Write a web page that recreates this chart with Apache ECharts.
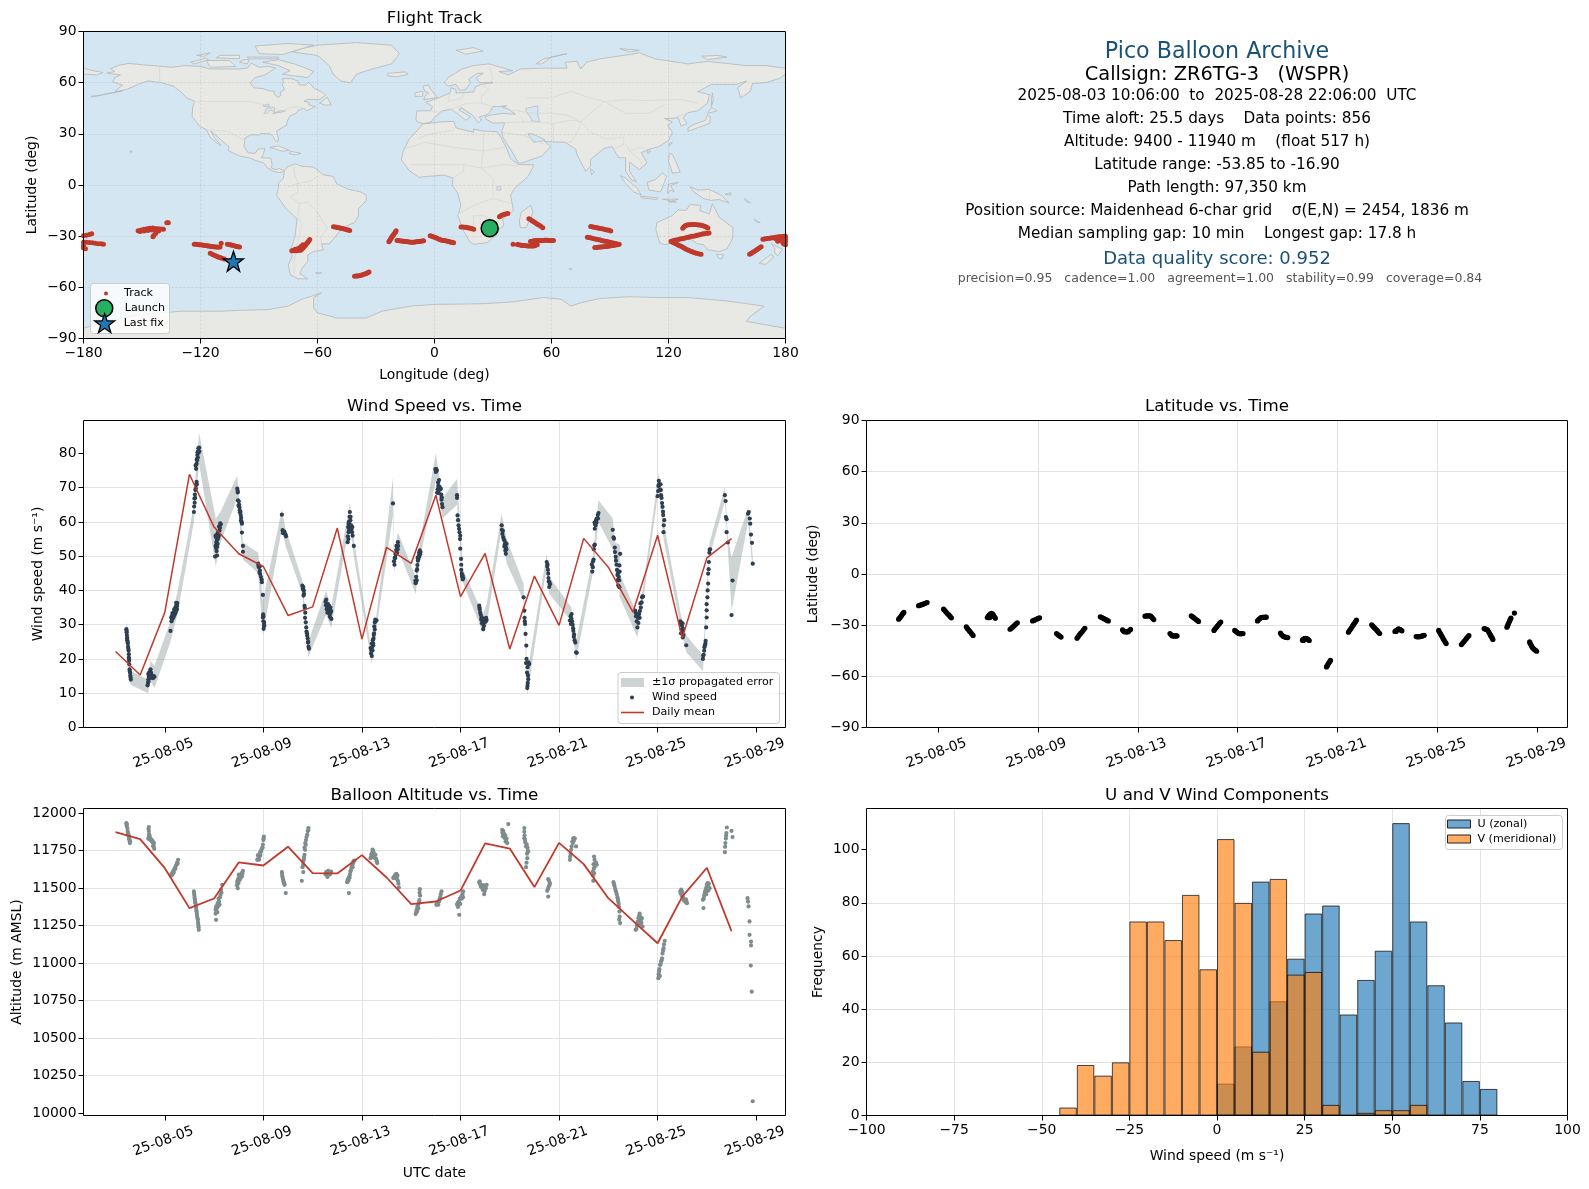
<!DOCTYPE html>
<html><head><meta charset="utf-8">
<style>html,body{margin:0;padding:0;background:#fff}#c{width:1589px;height:1189px}</style>
<script src="https://cdn.jsdelivr.net/npm/echarts@6/dist/echarts.min.js"></script>
</head><body><div id="c"></div>
<script>
// ---------- land outlines, [lon, lat] ----------
const landPolygons = [
 [[-168,65.6],[-164,66.5],[-166,68.3],[-162,70.2],[-156.5,71.3],[-150,70.5],[-141,69.7],[-135,69],[-128,70],[-120,69.5],[-115,68],[-108,68],[-100,68],[-96,68.5],[-94,71.5],[-90,69],[-85,69.5],[-81.5,68.5],[-85,66],[-87,64.5],[-92,63],[-94.5,60],[-94,58.7],[-92.5,57],[-88,56.5],[-85,55.3],[-82.3,55],[-82,52.9],[-80,51.3],[-78.8,52.5],[-79,54.5],[-77,56],[-78,58.7],[-77.5,60.5],[-78,62.4],[-73.5,62.4],[-70,61],[-69.5,58.8],[-66,58.5],[-64.5,60.3],[-61.5,56.5],[-58,54.8],[-56,52.5],[-59,50.2],[-65,50.2],[-67,49],[-64.5,48.5],[-64.5,47],[-61,46],[-65.5,43.5],[-67,45],[-70,43.7],[-71,42],[-74,40.5],[-75.5,37.5],[-76,35],[-78,33.8],[-81,31.5],[-80,27],[-80.5,25.2],[-81.8,26],[-82.8,28.5],[-84,30],[-89,30.2],[-90,29.2],[-94,29.5],[-97.2,27.5],[-97.7,22.5],[-95.5,18.8],[-92,18.6],[-90.5,21],[-87,21.5],[-87.8,18],[-88.8,15.9],[-84,15.8],[-83.3,12],[-83.7,10],[-81.5,9],[-79.5,9.6],[-77.3,8.5],[-78,7.5],[-80.3,7.3],[-83,8.3],[-85.7,10],[-87.6,13],[-92,14.5],[-95,16],[-100,17],[-105.5,20],[-105.5,22.5],[-109,26],[-112.5,29.5],[-114.7,31.7],[-112.5,27],[-110,24],[-109.5,23],[-112,25],[-115,28],[-117,32.5],[-120.5,34.5],[-122.5,37.5],[-124.3,40.3],[-124,46],[-123,49],[-127,51],[-130,54.5],[-134,58],[-140,60],[-147,61],[-152,59],[-158,56],[-164,54.7],[-160,58.5],[-165,60.5],[-164,63],[-161,64.5]],
 [[-73,78],[-68,80],[-60,82],[-40,83.5],[-22,82],[-18,77],[-22,71],[-32,68],[-40,65],[-43,60],[-48,61],[-52,65],[-54,70],[-60,76]],
 [[-80,73.5],[-72,71],[-67,69],[-62,66.5],[-65,63],[-72,64],[-78,65],[-74,67],[-80,70],[-88,72]],
 [[-117,73],[-105,73],[-102,69.5],[-115,69]],[[-90,77],[-78,76.5],[-62,82],[-75,83],[-92,81.5]],[[-125,72],[-117,74.5],[-116,73.5],[-123,71]],
 [[-110,76],[-100,76],[-100,74],[-112,74.5]],[[-96,75],[-80,75],[-80,74],[-95,74]],[[-122,76],[-115,77.5],[-118,75.5]],[[-98,73.5],[-95,73.5],[-96,71],[-100,72]],
 [[-59,48],[-55,51.5],[-53,47],[-56,46.8]],[[-84.5,22],[-80,23],[-74.5,20.3],[-78,19.8]],[[-74,19.8],[-68.5,18.6],[-71.5,17.7],[-74.4,18.4]],
 [[-156,20.2],[-155,19.6],[-155.7,19]],[[-170,53],[-160,55.2],[-165,54]],[[-176,52],[-170,52.8],[-176,51.6]],
 [[-77,8.5],[-75,11],[-71.5,12.4],[-68,11],[-62,10.5],[-57,6],[-52,5],[-50,0.5],[-44,-2.5],[-38,-4],[-35,-6],[-35,-9],[-39,-14],[-39,-18],[-41,-22],[-45,-24],[-48.5,-27],[-52,-32],[-54,-34.5],[-58,-34.5],[-57,-38],[-62,-39],[-65,-41],[-65,-45],[-68,-49],[-69,-52],[-65,-55],[-70,-55],[-74,-52.5],[-75,-47],[-73,-42],[-73.5,-37],[-71.5,-30],[-70.5,-20],[-76,-14],[-81,-6],[-80,-2],[-80,1],[-77.5,4]],
 [[-61,-51.5],[-58,-51.5],[-59.5,-52.3]],[[69,-49],[70.5,-49.3],[69.5,-49.8]],
 [[-6,35.8],[3,37],[10,37.3],[11,33.5],[15,32.3],[20,31],[20,32.8],[25,31.6],[32,31.3],[34,28],[37,21.5],[39,15.5],[43,12],[51,11.8],[48,5],[41,-2],[39,-6],[40.5,-15],[35,-20],[35.5,-24],[33,-26],[32,-29],[27,-33.8],[20,-34.8],[18,-33],[15,-27],[12,-18],[13.5,-12],[12,-5],[9,0],[9.5,4],[5,5.8],[-4,5],[-8,4.5],[-13,8.5],[-17,14.7],[-16,20],[-13,27],[-9.5,31]],
 [[49.3,-12],[50.5,-16],[47,-25],[44,-25],[43.5,-21],[44.5,-16]],
 [[-9,37],[-9.5,39],[-9,43.5],[-2,43.5],[-1,46],[-4.5,48.5],[2,51],[8,54],[8.5,57],[11,56],[11,54],[20,54.5],[21,57.5],[24,59],[30,60],[23,60],[21.5,63],[25,65.5],[22,65.5],[17.5,62],[18.5,60],[16,56],[13,55.5],[11,59],[7,58],[5,60],[7,63],[14,68],[20,70],[28,71],[40,67],[33,66.5],[38,64.5],[44,68],[55,68.5],[68,68.5],[67,72],[73,72.5],[75,68],[78,72],[85,74],[100,76.5],[105,77.5],[113,74],[130,71],[140,72.5],[160,70],[170,70],[180,68.5],[180,65],[177,62.5],[170,60],[163,59.5],[162,55],[157,51],[155.5,57],[160,61],[155,59],[142,59],[135,54.7],[141,53],[140,48],[135,43.5],[130,42.5],[127.5,39.5],[129.5,36],[126.5,34.5],[125,39.5],[121,39],[118,39],[122,37],[119.5,35],[122,31],[120,26],[115,22.5],[110,21],[106,19],[109,13],[105,9],[100,13.5],[100,8],[103.5,2],[101,3],[98,8],[98,16],[94.5,16],[91,22.5],[87,21.5],[80,15],[80,11],[77.5,8],[73,18],[72.5,21],[67,25],[57,25.5],[56,27],[50,30],[48,30],[51,25],[56,26],[59.5,22.5],[55,17],[45,13],[43,13],[39,21],[35,28],[34.5,31.5],[36,36.5],[30,36.3],[26.5,38.5],[26,40],[29,41],[35,42],[41.5,41.5],[38,44.5],[35,45.5],[37,46.5],[33,46],[30,46],[28,42],[26,40.8],[23,40],[24,38],[22.5,36.5],[19.5,41],[13.5,45.5],[12.5,44],[18.5,40],[16,38],[11,42.5],[8.5,44.5],[3.5,43.3],[0,39.5],[-2,36.8],[-5.5,36]],
 [[-180,68.5],[-175,67],[-170,66],[-173,64.5],[-180,65]],
 [[-5.5,50],[1.5,51.3],[0,53.5],[-2,56],[-3,58.6],[-6,58],[-5,55],[-3,54],[-5,52]],[[-10,52],[-6,52],[-6,55],[-10,54]],[[-24,65.5],[-15,66.3],[-13.5,65],[-19,63.4],[-24,64]],
 [[130,31.5],[136,34],[141,36],[141.5,40],[140,41],[139,38],[133,35.5],[130,33.5]],[[140,42],[145,43.5],[142,45.5]],[[142,46],[143,50],[142.5,54],[142,50]],
 [[80,9.5],[82,7.5],[80.5,6]],[[120.3,22.5],[122,25],[120.5,24.5]],[[109,20],[111,19.8],[109.5,18.3]],
 [[120.5,18.5],[122,18],[124,13],[126,7.5],[122,7],[120,14]],[[109,1.5],[113,3],[117,7],[119,5],[117.5,0.5],[116,-4],[110,-3]],[[95.3,5.5],[98,4],[104,-2],[106,-5.8],[102,-4],[98,1]],[[105.5,-6.5],[114.5,-7.5],[114,-8.5],[106,-7.5]],
 [[119.5,-5],[120,0.5],[125,1.5],[121,-0.5],[123,-4],[121,-3]],[[131,-1],[135,-3],[141,-2.6],[147,-6],[151,-10.5],[146,-8.5],[142,-9],[138,-8],[133,-4]],[[117,-8.3],[125,-8.3],[120,-10],[124,-10]],
 [[114,-22],[113.5,-26],[115.5,-34],[118,-35],[124,-33],[131,-31.5],[135,-34.5],[138,-35],[140,-38],[146,-39],[150,-37.5],[153,-31],[153,-25],[146,-19],[142.5,-11],[141,-17],[136,-15],[136.5,-12],[131,-11.5],[129,-15],[125,-14.5],[122,-18]],
 [[144.7,-40.7],[148.3,-41],[147,-43.5],[145.5,-42.5]],[[172.7,-34.5],[178.5,-37.7],[176,-41.5],[174.5,-40],[174.5,-37]],[[172.5,-40.7],[174,-42],[170,-46.5],[166.5,-46],[171,-42]],
 [[164,-20],[167,-22],[165,-21.7]],[[159,-8],[162,-10.5],[160,-9.8]],[[149,-5.5],[152,-4.5],[152,-6]],
 [[11,79],[20,80.5],[25,78.5],[16,76.7]],[[52,71],[56,74],[68,77],[60,75],[55,71]],[[95,80],[105,79],[100,78]],[[137,75.5],[145,76],[150,75],[140,73.5]],
 [[-180,-84],[-165,-79],[-150,-76],[-130,-74],[-110,-74],[-100,-73.5],[-85,-73],[-75,-71],[-68,-67],[-58,-63.3],[-62,-66],[-62,-72],[-60,-75],[-50,-78],[-35,-78],[-27,-74],[-12,-71],[0,-70],[15,-69.8],[27,-69.5],[40,-68.5],[56,-66],[65,-67],[70,-71],[75,-69],[85,-66.5],[100,-65.5],[115,-66],[130,-66],[150,-68],[169,-71],[162,-77],[160,-80],[170,-82],[180,-84],[180,-90],[-180,-90]]
];
const waterPolygons = [[[47,45],[53,46.5],[53,41],[54,37],[50,37.5],[49,40],[47,43]],[[-88,46.5],[-85,47.5],[-84.5,46],[-87,46]],[[-87.5,42],[-86,45],[-82,45.5],[-82,43],[-84,44],[-86,42]],[[-83,42],[-79,43.5],[-76.5,43.5],[-79,42.6]],[[32,-1],[34,-1],[34,-3],[32,-3]]];
const borderLines = [
 [[-123,49],[-95,49],[-83,46],[-79,43],[-75,45],[-70,46],[-67,45]],[[-141,69.7],[-141,60]],[[-117,32.5],[-106,31.5],[-97.2,26]],
 [[-70,-18],[-69,-11],[-74,-7],[-70,-4],[-70,1],[-64,2],[-60,5]],[[-58,-20],[-60,-16],[-65,-10],[-70,-11]],[[-70.5,-18],[-68,-23],[-70,-33],[-72,-45],[-72,-52]],[[-58,-20],[-55,-25],[-58,-30],[-58,-34]],[[-75,-1],[-70,1],[-72,7],[-72,11]],
 [[-9,27],[-2,30],[10,32]],[[-16,21],[-5,25],[10,22],[25,20],[36,22]],[[25,31],[25,20],[24,10],[30,4],[30,-8],[22,-11],[12,-17]],[[-12,12],[3,12],[15,12],[24,10],[36,12],[43,11]],[[30,-8],[40,-11]],[[20,-28],[20,-18],[25,-18],[33,-22]],[[9,4],[15,8],[15,12]],
 [[-2,43.5],[3,42.5],[8,44],[13,46.5],[17,48],[24,48],[30,46]],[[8,54],[7,49],[14,51],[15,54]],[[24,59],[28,56],[24,52],[24,48]],[[28,70],[30,62],[28,60]],
 [[40,44],[50,42],[60,42],[68,41],[75,37],[80,42],[87,49],[98,50],[108,49.5],[118,50],[127,50],[135,48]],[[47,51],[60,51],[70,55],[80,51],[87,49]],[[34,31],[46,29],[48,30]],[[36,36.5],[46,37],[44,40]],[[46,29],[56,24]],[[45,37],[54,37],[61,36],[61,25]],[[61,36],[70,38],[75,37],[74,32],[70,25],[67,25]],
 [[75,37],[80,31],[88,27],[97,28],[97,24],[92,21]],[[98,24],[100,20],[105,22],[108,21.5]],[[100,20],[105,15],[107,11]],[[87,49],[98,42],[110,42],[118,47]],[[124,40],[130,42.5]],[[141,-2.6],[141,-9]]
];

// ---------- flight track, [lon, lat] ----------
const trackPoints = [
 [-180,-29.8],[-178.5,-29.4],[-177,-29],[-175.8,-28.6],
 [-180,-33.5],[-178.5,-33.6],[-177,-33.7],[-175.5,-33.9],[-174,-34.1],[-172.5,-34.4],[-171,-34.5],[-169.8,-34.7],[-180,-35.5],[-180,-37],[-179,-37.4],
 [-152,-26.8],[-150.5,-26.4],[-149,-26],[-147.5,-25.6],[-146,-25.3],[-144.5,-25.2],[-143,-25.5],[-141.5,-25.7],[-140,-25.8],[-139,-25.9],[-151,-27.2],[-149,-27],[-147,-26.7],[-145,-26.4],[-143,-26.5],[-141.5,-27],[-143,-28.5],[-144,-29.6],[-144.4,-30.3],[-137.3,-22.2],[-136.5,-22.2],
 [-123.2,-34.7],[-122.3,-34.8],[-121.5,-34.9],[-120.7,-35],[-120,-35],[-119.2,-35.2],[-118.5,-35.3],[-117.7,-35.4],[-117,-35.5],[-116.2,-35.7],[-115.5,-35.8],[-114.7,-36],[-114,-36.1],[-113.2,-36.2],[-112.5,-36.3],[-111.7,-36.4],[-111,-36.5],[-110,-36.3],
 [-109.4,-34.1],[-106.2,-34.7],[-105.4,-34.9],[-104.7,-35.1],[-103.9,-35.3],[-103.1,-35.5],[-102.3,-35.7],[-101.5,-36],[-100.7,-36.2],[-100,-36.4],
 [-115,-40],[-114.2,-40.4],[-113.5,-40.9],[-112.7,-41.3],[-112,-41.7],[-111.2,-42],[-110.5,-42.3],[-109.7,-42.6],[-109,-43],[-107.8,-43.4],
 [-73.2,-38.6],[-72.4,-38.6],[-71.7,-38.6],[-70.9,-38.5],[-70.2,-38.4],[-69.4,-38.3],[-68.7,-38.2],[-68.2,-37.8],[-67.8,-37.3],[-67.4,-36.8],[-67,-36.3],[-66.5,-35.6],[-66,-35],[-65.5,-34.2],[-65,-33.5],[-64.5,-32.8],[-64,-32],[-71.5,-37.6],[-70,-37.2],[-68.5,-36],[-67.5,-35],
 [-51.8,-24.5],[-51,-24.6],[-50.3,-24.8],[-49.5,-25],[-48.8,-25.1],[-48,-25.3],[-47.3,-25.5],[-46.5,-25.7],[-45.8,-25.9],[-45,-26.2],[-44.3,-26.4],[-43.5,-26.7],
 [-23.4,-33.3],[-23,-32.7],[-22.7,-32],[-22.3,-31.4],[-22,-30.7],[-21.6,-30.1],[-21.2,-29.5],[-20.8,-28.8],[-20.4,-28.2],[-20,-27.5],[-19.7,-26.8],
 [-19.2,-32.5],[-18.4,-32.6],[-17.5,-32.8],[-16.7,-32.9],[-16,-33],[-15.2,-33.1],[-14.5,-33.2],[-13.7,-33.3],[-13,-33.4],[-12.2,-33.5],[-11.5,-33.5],[-10.7,-33.5],[-10,-33.4],[-9.2,-33.3],[-8.5,-33.2],[-7.7,-33.1],[-7,-33],[-6.2,-32.9],[-5.6,-32.7],
 [-2.2,-29.8],[-1.4,-30],[-0.7,-30.3],[0,-30.6],[0.8,-31],[1.5,-31.4],[2.3,-31.8],[3,-32.1],[3.8,-32.4],[4.5,-32.5],[5.3,-32.6],[6,-32.8],[6.8,-33],[7.5,-33.2],[8.3,-33.5],[9,-33.6],[9.8,-33.8],
 [-41,-53.5],[-40.2,-53.4],[-39.5,-53.3],[-38.7,-53.2],[-38,-53],[-37.2,-52.8],[-36.5,-52.5],[-35.7,-52.2],[-35,-51.9],[-33.6,-51],[-34.3,-51.5],
 [13.6,-24.6],[14.5,-24.6],[15.5,-24.7],[16.2,-24.8],[17,-25],[17.7,-25.2],[18.5,-25.4],[19.3,-25.7],[20.1,-26],
 [33.3,-18.6],[33.9,-18.2],[34.5,-17.8],[35.2,-17.4],[36,-17.1],[36.8,-16.9],[37.6,-16.7],
 [48.4,-19.8],[49.2,-20.3],[50,-20.9],[50.7,-21.4],[51.5,-22],[52.2,-22.6],[53,-23.1],[53.7,-23.6],[54.5,-24.2],[55.5,-25],
 [40.3,-34.7],[42.5,-34.9],[43.2,-35],[44,-35.2],[44.7,-35.4],[45.5,-35.5],[46.2,-35.5],[47,-35.6],[47.7,-35.7],[48.5,-35.8],[49.2,-35.8],[50,-35.8],[50.7,-35.7],[51.5,-35.6],[52.7,-35],[50,-34.3],[49.2,-33.2],[50.5,-32.8],[51.2,-32.7],[52,-32.6],[52.7,-32.5],[53.5,-32.5],[54.2,-32.5],[55,-32.5],[55.7,-32.5],[56.5,-32.4],[57.2,-32.4],[58,-32.4],[58.7,-32.5],[59.5,-32.5],[60.2,-32.5],[61,-32.5],
 [80.1,-24.3],[80.9,-24.5],[81.8,-24.7],[82.6,-24.9],[83.5,-25.1],[84.3,-25.3],[85.2,-25.5],[86,-25.7],[87,-26],[87.8,-26.2],[88.7,-26.4],[89.5,-26.6],[90.4,-26.9],
 [78.4,-30.6],[79.2,-30.8],[80,-31],[80.8,-31.2],[81.7,-31.5],[82.5,-31.7],[83.4,-31.9],[84.2,-32.1],[85,-32.3],[85.8,-32.6],[86.7,-32.8],[87.5,-33],[88.4,-33.2],[89.2,-33.4],[90,-33.6],[90.8,-33.8],[91.7,-34],[92.5,-34.3],[93.4,-34.5],[94.7,-34.8],
 [82.2,-36.7],[83.1,-36.6],[84,-36.5],[84.8,-36.4],[85.7,-36.3],[86.5,-36.2],[87.4,-36.1],[88.2,-36],[89,-35.9],[89.8,-35.7],[90.7,-35.6],[91.5,-35.5],[92.4,-35.3],[93.2,-35.1],[94,-35],
 [121.3,-33.1],[122.1,-33.5],[123,-34],[123.8,-34.5],[124.7,-35],[125.5,-35.4],[126.4,-35.9],[127.2,-36.4],[128,-37],[128.8,-37.5],[129.7,-38],[130.5,-38.4],[131.4,-38.8],[132.2,-39.2],[133,-39.6],[133.9,-39.9],[134.8,-40.2],[135.7,-40.4],[136.7,-40.6],
 [121.5,-33],[122.3,-32.7],[123.2,-32.4],[124.1,-32.2],[125,-32],[125.9,-31.7],[126.8,-31.5],[127.6,-31.3],[128.5,-31.1],[129.4,-30.8],[130.3,-30.6],[131.1,-30.3],[132,-30.1],[132.9,-30],[133.8,-29.8],[134.6,-29.5],[135.5,-29.3],[136.4,-29],[137.3,-28.8],[138.1,-28.6],[139,-28.4],[139.9,-28.3],[140.8,-28.2],
 [127.3,-25.3],[127.7,-24.8],[128.2,-24.2],[128.8,-23.8],[129.5,-23.5],[130.3,-23.3],[131.2,-23.2],[132.1,-23.2],[133,-23.2],[133.8,-23.2],[134.7,-23.3],[135.5,-23.4],[136.4,-23.5],[137.2,-23.7],[138,-24],[138.8,-24.3],[139.5,-24.7],[140.2,-25.2],
 [161.6,-40.6],[162.3,-40.1],[163,-39.6],[163.7,-39.1],[164.5,-38.6],[165.2,-38],[166,-37.4],[166.7,-36.8],[167.5,-36.2],
 [168.4,-31.8],[169.2,-31.6],[170,-31.5],[170.8,-31.3],[171.7,-31.2],[172.5,-31.1],[173.4,-31],[174.2,-30.9],[175,-30.7],[175.8,-30.5],[176.7,-30.4],[177.5,-30.3],[178.4,-30.2],[179.2,-30.1],[180,-30],[175,-31.5],[177,-31.5],[179,-31.5],[176,-33],[178,-33],[180,-33],[176.5,-32.2],[178.5,-32.2],[180,-31.7],[179,-34.5],[180,-35]
];
const launchPoint = [[28.3,-25.3]];
const lastFixPoint = [[-103.1,-44.7]];

// ---------- wind speed vs. time, [day of August, m/s] ----------
const windPoints = [
 [3.44,28.7],[3.45,27.8],[3.46,27],[3.47,26.3],[3.48,25.4],[3.5,24.6],[3.51,23.6],[3.53,22.5],[3.54,21.4],[3.54,20.4],[3.55,19.5],[3.56,18.4],[3.57,17],[3.59,16],[3.61,14.6],[3.62,14],[3.45,28.2],[3.47,25.8],[3.49,25],[3.52,23],[3.55,20],[3.58,16.4],[3.6,15.2],
 [4.3,12.3],[4.32,13],[4.33,14],[4.35,14.8],[4.38,15.6],[4.4,16.3],[4.42,17],[4.44,16],[4.47,15.2],[4.5,15],[4.55,15],[4.58,14.8],[4.33,15.6],[4.34,13.4],[4.37,15],[4.41,15.6],[4.45,14.6],[4.52,14.4],[4.36,16],[4.43,15.4],[4.39,14.4],
 [5.23,28.2],[5.26,32.1],[5.29,32.6],[5.33,33],[5.37,33.6],[5.4,34.3],[5.43,35.1],[5.47,35.6],[5.51,36.3],[5.49,34.6],[5.41,33.2],[5.27,31],[5.3,31.6],[5.35,32.2],[5.39,32.8],[5.44,33.6],[5.47,34.2],[5.5,35.5],[5.46,36.4],[5.42,34.5],[5.38,34.5],[5.31,33.4],
 [6.18,62.9],[6.19,64.5],[6.2,66.8],[6.22,68],[6.24,69.3],[6.27,70.8],[6.29,71.7],[6.27,75.5],[6.29,77],[6.3,78.3],[6.32,79.5],[6.35,80.5],[6.39,81.7],[6.36,81.5],[6.21,65.6],[6.23,67],[6.26,69.8],[6.3,71],[6.25,76.5],[6.31,78],[6.33,80.3],[6.37,80.2],[6.34,78.8],[6.4,80.6],
 [7.04,49.9],[7.12,50.2],[7.1,51.5],[7.12,52.7],[7.09,54],[7.07,55.6],[7.15,55],[7.19,56],[7.13,56.4],[7.24,58.3],[7.27,59.3],[7.06,53],[7.08,52.4],[7.11,54.6],[7.14,53.6],[7.17,55.4],[7.2,58.6],[7.22,57.5],[7.16,57],[7.25,59.6],[7.06,56],
 [7.94,69.7],[7.96,68.6],[7.97,66.3],[8,66],[8.03,64.2],[8.05,62.8],[8.08,62],[8.1,61.2],[8.13,59.5],[8.13,56.9],[8.17,53],[8.17,51.3],[7.96,69],[7.99,64.8],[8.02,65],[8.04,63.4],[8.07,63],[8.09,60.4],[8.12,60],
 [8.79,47.8],[8.82,46.8],[8.86,45.8],[8.87,44.8],[8.93,43.2],[8.94,42.4],[8.98,38.7],[8.98,32.1],[9,31],[9.02,29.7],[9.03,30.6],[8.8,47.2],[8.84,45.2],[8.85,47],[8.9,44],[8.99,33],[9,32.5],[9.04,29.7],[9.01,28.8],
 [9.75,62.1],[9.78,57.6],[9.82,57],[9.87,56.6],[9.9,56.3],[9.8,56.7],[9.85,57.2],[9.92,55.8],
 [10.58,41.4],[10.62,41],[10.64,40],[10.65,39],[10.68,34.9],[10.7,33.5],[10.72,30.7],[10.75,28],[10.78,26.8],[10.8,26],[10.81,24.8],[10.83,23.6],[10.85,23],[10.6,40.4],[10.63,38.5],[10.67,35.5],[10.69,32],[10.74,29.2],[10.77,27.5],[10.82,25],
 [11.52,36.7],[11.55,37.3],[11.58,36],[11.6,35],[11.65,34.6],[11.7,34.2],[11.73,33.6],[11.72,35],[11.76,31.7],[11.54,35.7],[11.57,34.5],[11.62,36],[11.67,35.5],[11.75,34],[11.6,33.5],[11.69,33],[11.7,32.3],
 [12.42,54.1],[12.45,55],[12.44,58.5],[12.47,60],[12.5,61.5],[12.51,62.9],[12.53,60.5],[12.56,59],[12.48,57.6],[12.6,57],[12.62,56],[12.67,53],[12.43,55.8],[12.46,59.5],[12.49,59.3],[12.52,58],[12.54,61.5],[12.58,58],[12.61,58.5],[12.46,57],[12.5,58.8],
 [13.4,20.9],[13.38,22.5],[13.35,23.2],[13.42,23.5],[13.45,24.5],[13.47,26],[13.49,27.5],[13.52,28.6],[13.52,30.7],[13.56,31],[13.59,31.3],[13.37,21.6],[13.4,24.5],[13.43,22.5],[13.44,25.5],[13.46,24],[13.48,27],[13.5,29.5],[13.54,31.5],
 [14.26,65.4],[14.3,48.5],[14.33,49.5],[14.36,50.7],[14.39,51.8],[14.42,52.8],[14.46,54.1],[14.45,52],[14.32,47.5],[14.35,49.5],[14.38,50.5],[14.4,53],[14.43,51],[14.47,53],
 [15.18,42.1],[15.22,43],[15.2,44],[15.22,45.8],[15.25,47.4],[15.27,48.7],[15.3,50],[15.35,51.7],[15.38,51.2],[15.2,42.6],[15.17,42.8],[15.24,46.2],[15.26,49.5],[15.29,49],[15.32,51],[15.33,49.8],[15.36,50.6],
 [15.98,75.4],[16.02,75.4],[16.05,68.5],[16.07,69.5],[16.1,70.5],[16.13,72.2],[16.12,70],[16.2,69.7],[16.23,66.5],[16.25,65.2],[16.27,64.3],[16.04,75],[16,74.6],[16.09,71.5],[16.11,68.5],[16.15,70.2],[16.18,69.5],[16.22,68],[16.24,67.2],
 [16.86,67.8],[16.86,67],[16.88,61.9],[16.9,60.5],[16.94,58],[16.96,57],[16.99,56],[16.99,52.2],[17.02,49.2],[17.03,47.5],[17.05,44.9],[17.06,44],[17.11,43.7],[16.92,59],[16.98,55],[17.03,46],[17.08,44.4],[17.09,43.2],
 [17.76,35.6],[17.78,34.5],[17.8,33.6],[17.85,32.2],[17.88,31.2],[17.92,30.2],[17.92,28.7],[17.98,30.7],[18.06,31.4],[18.03,31],[17.77,35],[17.82,33],[17.84,31.5],[17.9,31.8],[17.95,29.6],[18,31.8],[18.04,32],[17.87,30.4],
 [18.67,59],[18.68,57.7],[18.73,55.6],[18.78,54.6],[18.84,52.5],[18.87,53.6],[18.84,50.7],[18.82,51.6],[18.7,56.5],[18.75,55],[18.8,53.5],[18.83,53.8],[18.86,52],[18.72,57.4],[18.78,52.8],
 [19.56,38],[19.59,34.1],[19.62,30.2],[19.64,27.3],[19.67,23.9],[19.68,20],[19.79,18.5],[19.72,17.6],[19.75,14.1],[19.73,13],[19.71,11.5],[19.7,16],[19.6,32],[19.61,31],[19.66,18.8],[19.76,19],[19.74,15.2],[19.72,12.2],
 [20.5,48.3],[20.53,47.6],[20.56,44.9],[20.58,42.6],[20.6,41],[20.63,41.8],[20.52,47],[20.55,46],[20.57,43.6],[20.61,42.4],
 [21.51,33.1],[21.44,31.2],[21.5,31.8],[21.55,30],[21.58,28.2],[21.6,26.5],[21.63,25.5],[21.66,24.8],[21.69,21.9],[21.47,32.5],[21.53,31],[21.48,30.2],[21.57,29],[21.61,27.2],[21.72,21.8],
 [22.37,46.8],[22.33,47.6],[22.4,49],[22.43,53.1],[22.41,52],[22.45,58],[22.46,59.5],[22.5,60.5],[22.53,61],[22.57,62],[22.6,62.6],[22.35,45.5],[22.38,48.5],[22.45,53.4],[22.44,59.8],[22.48,59],[22.52,59.8],[22.58,61],
 [23.18,57.7],[23.23,55.1],[23.27,51.2],[23.3,49.8],[23.31,48.7],[23.48,50.7],[23.45,47.3],[23.41,42.9],[23.37,44.5],[23.42,44],[23.45,40.9],[23.37,43],[23.21,55.5],[23.26,52.5],[23.33,47.5],[23.39,45],[23.4,41.5],[23.44,43],[23.46,45.5],[23.35,46],
 [24.09,34.1],[24.12,32.5],[24.15,31],[24.18,29.2],[24.2,32],[24.25,33.1],[24.28,34],[24.32,35],[24.35,36.5],[24.39,38.3],[24.11,33.5],[24.17,33],[24.22,30.5],[24.27,32],[24.3,36.2],[24.37,38],[24.41,38.2],
 [25,67.5],[25.03,70.5],[25.05,72],[25.08,70.8],[25.13,69.3],[25.16,67],[25.2,64.4],[25.23,62],[25.27,60.5],[25.24,57],[25.02,69],[25.06,71],[25.1,69.5],[25.12,71],[25.14,67.8],[25.18,65.5],[25.22,63],[25.25,59],
 [25.94,30.2],[25.97,28.6],[26.02,26.3],[25.99,29.7],[26.05,27],[26.16,24],[25.92,31],[25.96,30.5],[26,28],[26.03,28.8],[25.95,27.5],[26.01,30.4],
 [26.84,20],[26.87,21.2],[26.89,22.4],[26.92,24],[26.95,25.3],[26.97,29.2],[26.99,32.1],[26.99,34.2],[26.99,36],[27.02,38],[27.03,40],[27.05,44.9],[27.08,48.3],[27.1,51],[27.11,51.9],[26.85,21],[26.9,23.4],[26.94,24.5],[27.05,42],[27.07,46.2],[27.13,52],
 [27.73,67.8],[27.76,66.1],[27.77,61.4],[27.8,60.8],[27.8,57],[27.85,54],[28.04,42.9],[28,32.8],
 [28.67,62.4],[28.7,62.9],[28.76,59.5],[28.74,61],[28.79,56.3],[28.83,53.9],[28.86,47.8]
];
const bandDays = [3.44,3.61,4.32,4.42,4.58,5.23,5.51,6.18,6.24,6.39,7.07,7.26,7.94,8.17,8.79,8.98,9.75,9.9,10.58,10.82,11.55,11.75,12.51,12.67,13.4,13.59,14.26,14.3,14.46,15.18,15.35,16,16.27,16.86,17.11,17.92,18.06,18.67,18.87,19.56,19.71,20.5,20.6,21.5,21.69,22.37,22.6,23.18,23.27,23.48,23.45,24.18,24.39,25.05,25.24,25.94,26.16,26.84,27.11,27.73,27.85,28,28.67,28.86];
const bandLow =  [26,12.5,10,13.5,11.5,25,33,60,65,77,47,54,67,49,45,27,58,53,39,20.5,33,29,60,50,18.5,29,62,45,52,39,49,72,61,65,42,27.5,30,58,48,37,9.5,47,39,31,19.5,45,60,52,48,44,38.2,26.3,36,70,55,29,22,16.5,50,66,52,34,60,46];
const bandHigh = [31.2,16.5,14,19.5,18,31,39.5,65,73,86,61,63,73.5,54,51,37,63.6,58,43,25,40,35,65.5,55,22,33,73,51,57,44,54,80,67,72.5,46,33,36,62.4,55,42,16,50.7,44,35,25,50,66.3,61,54,53.3,45,33,40,74.6,60,33,27,21,54,70.2,56,49.7,64,50];
const meanDays = [3,4,5,6,7,8,9,10,11,12,13,14,15,16,17,18,19,20,21,22,23,24,25,26,27,28];
const windMean = [22.2,15.3,33.6,73.9,58.5,50.7,47,32.7,35.2,58.2,25.8,52.6,47.9,67.8,38.2,50.8,22.9,44.2,29.8,55.2,46.8,33.7,56.1,26.1,49.5,55.1];

// ---------- latitude vs. time, [day, deg] ----------
const latPoints = [
 [3.43,-26.5],[3.47,-25.8],[3.5,-25.2],[3.54,-24.5],[3.57,-23.8],[3.6,-23.1],[3.64,-22.5],
 [4.23,-18.6],[4.29,-18.3],[4.35,-18],[4.41,-17.7],[4.47,-17.3],[4.52,-17],[4.57,-16.7],
 [5.23,-20.6],[5.28,-21.4],[5.33,-22.3],[5.38,-23.2],[5.44,-24],[5.49,-24.9],[5.54,-25.7],
 [6.14,-31],[6.18,-31.9],[6.23,-32.7],[6.27,-33.5],[6.32,-34.3],[6.36,-35.2],[6.41,-36],
 [6.98,-25.5],[7.02,-24.7],[7.06,-24],[7.1,-23.5],[7.14,-23],[7.18,-23.4],[7.22,-24],[7.26,-25],[7.3,-25.9],[7.04,-25.6],[7.08,-25.5],
 [7.89,-32.4],[7.94,-31.8],[7.99,-31.2],[8.04,-30.5],[8.09,-29.8],[8.13,-29.2],[8.18,-28.6],
 [8.79,-27.5],[8.84,-27.2],[8.88,-27],[8.93,-26.6],[8.98,-26.3],[9.02,-26],[9.07,-25.7],
 [9.75,-34.9],[9.8,-35.5],[9.84,-36],[9.89,-36.5],[9.93,-37],
 [10.57,-37.6],[10.62,-36.6],[10.67,-35.6],[10.72,-34.7],[10.78,-33.7],[10.83,-32.7],[10.88,-31.8],
 [11.5,-25.1],[11.55,-25.4],[11.6,-25.8],[11.65,-26.2],[11.71,-26.7],[11.76,-27.1],[11.82,-27.5],
 [12.39,-32.7],[12.42,-33.3],[12.46,-33.8],[12.5,-33.9],[12.54,-33.9],[12.58,-33.9],[12.62,-33.8],[12.66,-33.2],[12.71,-32.5],
 [13.29,-24.7],[13.35,-24.6],[13.4,-24.6],[13.45,-24.5],[13.5,-24.5],[13.54,-25],[13.57,-25.5],[13.6,-26.1],[13.64,-26.7],
 [14.29,-34.9],[14.34,-35.7],[14.39,-36.3],[14.44,-36.3],[14.48,-36.3],[14.53,-36.3],[14.57,-36.3],
 [15.14,-24.5],[15.19,-25],[15.24,-25.6],[15.28,-26.1],[15.33,-26.7],[15.38,-27.2],[15.43,-27.8],
 [16.05,-33.1],[16.09,-32.2],[16.14,-31.4],[16.18,-30.6],[16.23,-29.8],[16.27,-29],[16.32,-28.2],
 [16.88,-33.1],[16.92,-33.6],[16.96,-34],[17,-34.5],[17.04,-34.9],[17.08,-35],[17.12,-35],[17.17,-35],[17.21,-34.9],
 [17.79,-27.5],[17.82,-27],[17.86,-26.4],[17.9,-26],[17.93,-25.5],[17.98,-25.4],[18.03,-25.4],[18.09,-25.3],[18.14,-25.3],
 [18.71,-34.7],[18.76,-35.7],[18.82,-36.5],[18.86,-36.8],[18.9,-37],[18.95,-37.2],[19,-37.3],
 [19.59,-38.8],[19.62,-38.3],[19.65,-38],[19.68,-37.9],[19.71,-37.8],[19.75,-37.9],[19.78,-38],[19.82,-38.5],[19.86,-39],[19.63,-39],
 [20.55,-54.5],[20.58,-53.9],[20.6,-53.2],[20.63,-52.5],[20.66,-51.9],[20.69,-51.2],[20.71,-50.6],
 [21.43,-34.1],[21.47,-33.2],[21.51,-32.4],[21.55,-31.5],[21.59,-30.6],[21.63,-29.7],[21.67,-28.9],[21.71,-28],[21.75,-27.1],
 [22.36,-29.8],[22.4,-30.4],[22.43,-31],[22.47,-31.5],[22.5,-32],[22.55,-32.7],[22.59,-33.4],[22.63,-34.2],[22.68,-34.9],
 [23.29,-33.7],[23.32,-33.4],[23.36,-33],[23.4,-32.6],[23.43,-32.2],[23.47,-32.4],[23.5,-32.6],[23.54,-33],[23.57,-33.3],[23.34,-33.7],
 [24.14,-36.7],[24.18,-36.8],[24.22,-36.8],[24.25,-36.8],[24.29,-36.7],[24.34,-36.5],[24.38,-36.3],[24.42,-36.1],[24.46,-35.9],
 [25.04,-33.1],[25.07,-34],[25.11,-35],[25.15,-36],[25.19,-37],[25.22,-38],[25.26,-38.9],[25.3,-39.9],[25.34,-40.8],
 [25.95,-41.4],[26,-40.5],[26.05,-39.6],[26.1,-38.7],[26.15,-37.8],[26.2,-36.9],[26.25,-36.1],
 [26.86,-32],[26.9,-32.2],[26.93,-32.4],[26.97,-32.6],[27,-32.9],[27.04,-33.9],[27.07,-34.8],[27.11,-35.7],[27.14,-36.6],[27.18,-37.5],[27.21,-38.4],
 [27.77,-31.2],[27.8,-30.3],[27.82,-29.4],[27.85,-28.5],[27.88,-27.6],[27.9,-26.7],[27.93,-25.9],[28.07,-22.9],
 [28.68,-39.8],[28.7,-40.6],[28.73,-41.5],[28.76,-42.3],[28.79,-43.1],[28.83,-43.7],[28.87,-44.3],[28.92,-44.8],[28.96,-45.3]
];

// ---------- altitude vs. time, [day, m] ----------
const altPoints = [
 [3.44,11933],[3.45,11915],[3.48,11900],[3.49,11880],[3.51,11860],[3.54,11845],[3.55,11833],[3.57,11815],[3.58,11800],[3.46,11925],[3.5,11870],[3.53,11855],[3.56,11825],[3.59,11812],
 [4.35,11907],[4.35,11880],[4.36,11860],[4.36,11844],[4.42,11822],[4.37,11825],[4.47,11810],[4.53,11800],[4.55,11780],[4.57,11762],[4.34,11895],[4.38,11850],[4.33,11830],[4.4,11835],[4.45,11825],[4.5,11815],[4.52,11780],[4.56,11800],
 [5.26,11589],[5.3,11600],[5.34,11612],[5.37,11622],[5.41,11636],[5.46,11651],[5.5,11670],[5.54,11689],[5.28,11585],[5.32,11595],[5.36,11605],[5.43,11630],[5.48,11660],[5.52,11665],
 [6.18,11478],[6.2,11450],[6.22,11425],[6.24,11400],[6.27,11370],[6.29,11344],[6.31,11315],[6.34,11289],[6.36,11255],[6.38,11222],[6.19,11465],[6.21,11435],[6.23,11410],[6.26,11385],[6.28,11355],[6.3,11330],[6.33,11300],[6.35,11270],[6.37,11240],
 [7.08,11289],[7.06,11330],[7.06,11356],[7.09,11380],[7.12,11370],[7.15,11400],[7.18,11430],[7.2,11410],[7.26,11456],[7.28,11490],[7.33,11522],[7.1,11345],[7.13,11340],[7.16,11380],[7.22,11390],[7.24,11440],[7.3,11470],[7.08,11365],
 [7.96,11500],[7.93,11520],[7.94,11544],[7.97,11560],[8.02,11570],[8.07,11589],[8.12,11600],[8.17,11616],[7.95,11530],[7.99,11535],[8.04,11555],[8.09,11570],[8.13,11580],[8.15,11600],[8,11590],
 [8.75,11689],[8.8,11700],[8.85,11712],[8.88,11722],[8.9,11745],[8.95,11767],[8.98,11790],[9,11820],[9.02,11844],[8.78,11720],[8.83,11690],[8.87,11740],[8.92,11755],[8.97,11770],[9.01,11830],
 [9.75,11607],[9.77,11580],[9.8,11556],[9.83,11535],[9.86,11522],[9.91,11467],[9.76,11595],[9.79,11565],[9.82,11545],[9.85,11530],
 [10.56,11549],[10.62,11607],[10.59,11640],[10.62,11656],[10.64,11690],[10.67,11722],[10.69,11755],[10.72,11789],[10.73,11820],[10.78,11856],[10.8,11880],[10.83,11900],[10.61,11675],[10.65,11705],[10.67,11770],[10.7,11800],[10.75,11840],[10.82,11885],
 [11.52,11593],[11.56,11590],[11.6,11590],[11.66,11600],[11.7,11605],[11.75,11611],[11.63,11615],[11.58,11605],[11.68,11590],[11.72,11595],[11.6,11575],[11.55,11608],
 [12.47,11467],[12.4,11540],[12.43,11560],[12.48,11575],[12.51,11589],[12.53,11610],[12.6,11651],[12.64,11665],[12.7,11684],[12.42,11545],[12.46,11555],[12.5,11570],[12.55,11620],[12.58,11640],[12.62,11640],[12.66,11680],
 [13.35,11700],[13.38,11725],[13.43,11756],[13.47,11740],[13.55,11722],[13.58,11695],[13.62,11667],[13.37,11705],[13.41,11735],[13.45,11715],[13.5,11720],[13.53,11700],[13.45,11750],[13.6,11680],
 [14.27,11567],[14.33,11580],[14.4,11596],[14.42,11570],[14.46,11549],[14.5,11504],[14.3,11575],[14.36,11590],[14.38,11565],[14.44,11585],[14.48,11530],
 [15.18,11327],[15.22,11356],[15.25,11375],[15.31,11400],[15.33,11420],[15.35,11493],[15.2,11340],[15.24,11345],[15.27,11385],[15.29,11365],[15.36,11450],[15.34,11470],
 [16.02,11389],[16.08,11395],[16.13,11411],[16.18,11440],[16.23,11478],[16.05,11400],[16.1,11390],[16.15,11425],[16.2,11460],
 [16.95,11322],[16.86,11389],[16.9,11375],[16.97,11429],[17.02,11440],[17.11,11478],[16.88,11400],[16.93,11410],[16.99,11395],[17.05,11430],[17.08,11460],[17.1,11440],
 [17.76,11540],[17.8,11525],[17.85,11511],[17.9,11490],[17.96,11460],[18.06,11522],[18,11510],[17.78,11545],[17.83,11510],[17.92,11520],[17.98,11480],[18.03,11500],[17.88,11505],
 [18.69,11889],[18.72,11865],[18.76,11850],[18.8,11833],[18.85,11815],[18.9,11800],[18.94,11927],[18.7,11870],[18.74,11880],[18.78,11860],[18.82,11850],[18.87,11830],[18.72,11845],[18.83,11810],
 [19.59,11900],[19.59,11875],[19.59,11833],[19.63,11805],[19.66,11778],[19.72,11770],[19.75,11744],[19.71,11700],[19.66,11640],[19.6,11850],[19.62,11820],[19.69,11790],[19.73,11750],[19.7,11730],[19.68,11670],
 [20.56,11560],[20.63,11533],[20.58,11510],[20.52,11482],[20.56,11444],[20.59,11550],[20.61,11520],[20.55,11495],
 [21.44,11689],[21.47,11730],[21.51,11778],[21.54,11810],[21.61,11833],[21.57,11830],[21.69,11778],[21.45,11710],[21.49,11755],[21.56,11800],[21.6,11815],[21.64,11830],
 [22.39,11549],[22.37,11611],[22.4,11660],[22.42,11711],[22.48,11660],[22.53,11656],[22.44,11640],[22.38,11585],[22.41,11630],[22.44,11690],[22.46,11665],[22.5,11670],[22.42,11600],
 [23.21,11540],[23.25,11515],[23.31,11478],[23.37,11440],[23.4,11411],[23.43,11375],[23.45,11344],[23.48,11267],[23.23,11525],[23.28,11495],[23.34,11460],[23.39,11425],[23.46,11310],[23.44,11290],[23.42,11395],
 [24.11,11222],[24.16,11250],[24.22,11300],[24.27,11330],[24.32,11289],[24.39,11244],[24.3,11260],[24.14,11228],[24.19,11275],[24.25,11315],[24.29,11310],[24.34,11270],[24.36,11300],[24.27,11285],
 [25.03,10900],[25.04,10927],[25.07,10960],[25.1,10989],[25.14,11010],[25.18,11033],[25.2,11065],[25.24,11100],[25.29,11149],[25.05,10910],[25.06,10945],[25.09,10915],[25.12,10990],[25.16,11020],[25.22,11085],[25.26,11125],
 [25.92,11478],[25.98,11450],[26.05,11422],[26.12,11410],[26.19,11400],[25.96,11490],[25.94,11465],[26,11475],[26.03,11440],[26.08,11420],[26.15,11425],[26.17,11410],
 [26.86,11367],[26.84,11422],[26.89,11450],[26.93,11478],[26.98,11505],[27.03,11533],[27.08,11530],[27.11,11500],[26.97,11460],[26.87,11430],[26.91,11465],[26.95,11490],[27,11525],[27.05,11510],[26.99,11480],[27.02,11495],[27.06,11485],
 [27.73,11740],[27.75,11800],[27.77,11830],[27.79,11867],[27.81,11904],[28,11882],[28.04,11840],[27.74,11775],[27.78,11850],
 [28.65,11433],[28.67,11410],[28.69,11378],[28.73,11278],[28.73,11189],[28.79,11144],[28.79,11118],[28.78,10984],[28.82,10810],[28.86,10080]
];
const altMean = [11873,11827,11633,11367,11431,11671,11651,11776,11600,11598,11720,11571,11393,11411,11484,11798,11764,11507,11802,11660,11433,11282,11133,11444,11636,11213];

// ---------- histograms ----------
const uBins = [2.5,7.5,12.5,17.5,22.5,27.5,32.5,37.5,42.5,47.5,52.5,57.5,62.5,67.5,72.5,77.5];
const uCounts = [12,26,88,43,59,76,79,38,51,62,110,73,49,35,13,10];
const vBins = [-42.5,-37.5,-32.5,-27.5,-22.5,-17.5,-12.5,-7.5,-2.5,2.5,7.5,12.5,17.5,22.5,27.5,32.5,42.5,47.5,52.5,57.5];
const vCounts = [3,19,15,20,73,73,66,83,55,104,80,24,89,53,54,4,1,2,2,4];

// ---------- ticks and text ----------
const dayTicks = [5,9,13,17,21,25,29];
const dayLabels = ['25-08-05','25-08-09','25-08-13','25-08-17','25-08-21','25-08-25','25-08-29'];
const windTicks = [0,10,20,30,40,50,60,70,80];
const altTicks = [10000,10250,10500,10750,11000,11250,11500,11750,12000];
const freqTicks = [0,20,40,60,80,100];
const titles = ['Flight Track','Wind Speed vs. Time','Latitude vs. Time','Balloon Altitude vs. Time','U and V Wind Components'];
const infoLines = ['2025-08-03 10:06:00  to  2025-08-28 22:06:00  UTC','Time aloft: 25.5 days    Data points: 856','Altitude: 9400 - 11940 m    (float 517 h)','Latitude range: -53.85 to -16.90','Path length: 97,350 km','Position source: Maidenhead 6-char grid    σ(E,N) = 2454, 1836 m','Median sampling gap: 10 min    Longest gap: 17.8 h'];

const FONT = '"DejaVu Sans"';
const STAR = 'path://M0,-10 L2.35,-3.09 L9.51,-3.09 L3.8,1.18 L5.88,8.09 L0,3.82 L-5.88,8.09 L-3.8,1.18 L-9.51,-3.09 L-2.35,-3.09 Z';
const LX = 83.5, LW = 702, RX = 866.5, RW = 701;
const Y1 = 31.5, H1 = 307, Y2 = 420.5, H2 = 307, Y3 = 808.5, H3 = 307;
const GRIDCOL = '#e3e3e3';

const box = (l,t,w,h)=>({left:l,top:t,width:w,height:h,show:true,borderColor:'transparent',borderWidth:0,backgroundColor:'transparent',z:-2,containLabel:false});
const grid = [box(LX,Y1,LW,H1),box(LX,Y2,LW,H2),box(RX,Y2,RW,H2),box(LX,Y3,LW,H3),box(RX,Y3,RW,H3)];
grid[0].backgroundColor = '#d4e6f1';

const numFmt = v=>String(v).replace('-','\u2212');
const baseAxis = {
  axisLine:{show:false,onZero:false},
  axisTick:{show:true,length:5,lineStyle:{color:'#000',width:1},inside:false},
  axisLabel:{color:'#000',fontFamily:FONT,fontSize:13.9,margin:8,showMinLabel:true,showMaxLabel:true,formatter:numFmt},
  splitLine:{show:true,showMinLine:false,showMaxLine:false,lineStyle:{color:GRIDCOL,width:1}},
  nameTextStyle:{color:'#000',fontFamily:FONT,fontSize:13.9},
  nameLocation:'middle'
};
const merge = (a,b)=>{const o=Object.assign({},a,b);for(const k of ['axisTick','axisLabel','splitLine','nameTextStyle']) if(b[k]) o[k]=Object.assign({},a[k],b[k]);return o;};
const yLabel = {margin:7,padding:[5,0,0,0]};
const dayX = (gridIndex,min,max,name)=>merge(baseAxis,{type:'value',gridIndex,min,max,name:name||'',nameGap:51,
  axisTick:{customValues:dayTicks},
  axisLabel:{customValues:dayTicks,rotate:20,align:'center',verticalAlign:'top',margin:18,padding:[0,8,0,0],formatter:v=>dayLabels[dayTicks.indexOf(v)]||''},
  splitLine:{customValues:dayTicks}});
const customY = (gridIndex,min,max,ticks,name,nameGap)=>merge(baseAxis,{type:'value',gridIndex,min,max,name,nameGap,
  axisTick:{customValues:ticks},axisLabel:Object.assign({customValues:ticks},yLabel),splitLine:{customValues:ticks}});

const mapSplit = {show:true,showMinLine:false,showMaxLine:false,lineStyle:{color:'#9aa4a8',width:0.8,type:[2,2],opacity:0.35}};
const xAxis = [
  merge(baseAxis,{type:'value',gridIndex:0,min:-180,max:180,interval:60,name:'Longitude (deg)',nameGap:30,splitLine:mapSplit}),
  dayX(1,1.70,30.19),
  dayX(2,2.145,30.195),
  dayX(3,1.70,30.19,'UTC date'),
  merge(baseAxis,{type:'value',gridIndex:4,min:-100,max:100,interval:25,name:'Wind speed (m s⁻¹)',nameGap:34})
];
const yAxis = [
  merge(baseAxis,{type:'value',gridIndex:0,min:-90,max:90,interval:30,name:'Latitude (deg)',nameGap:44,splitLine:mapSplit,axisLabel:yLabel}),
  customY(1,0,89.6,windTicks,'Wind speed (m s⁻¹)',38),
  merge(baseAxis,{type:'value',gridIndex:2,min:-90,max:90,interval:30,name:'Latitude (deg)',nameGap:46,axisLabel:yLabel}),
  customY(3,9985,12030.7,altTicks,'Altitude (m AMSL)',59),
  customY(4,0,115.5,freqTicks,'Frequency',41)
];

const poly = (api,pts,style)=>({type:'polygon',shape:{points:pts.map(p=>api.coord(p))},style,silent:true});
const pair = (xs,ys)=>xs.map((x,i)=>[x,ys[i]]);
const series = [
  {name:'Land',type:'custom',coordinateSystem:'cartesian2d',xAxisIndex:0,yAxisIndex:0,z:-1,clip:true,silent:true,data:landPolygons.map((_,i)=>i),
   renderItem:(p,api)=>poly(api,landPolygons[p.dataIndex],{fill:'#e8e8e4',stroke:'#b4b8ba',lineWidth:0.8})},
  {name:'Water',type:'custom',coordinateSystem:'cartesian2d',xAxisIndex:0,yAxisIndex:0,z:-1,clip:true,silent:true,data:waterPolygons.map((_,i)=>i),
   renderItem:(p,api)=>poly(api,waterPolygons[p.dataIndex],{fill:'#d4e6f1',stroke:'#b4b8ba',lineWidth:0.7})},
  {name:'Borders',type:'custom',coordinateSystem:'cartesian2d',xAxisIndex:0,yAxisIndex:0,z:-1,clip:true,silent:true,data:borderLines.map((_,i)=>i),
   renderItem:(p,api)=>({type:'polyline',shape:{points:borderLines[p.dataIndex].map(c=>api.coord(c))},style:{fill:null,stroke:'#d6d6d2',lineWidth:0.7},silent:true})},
  {name:'Track',type:'scatter',xAxisIndex:0,yAxisIndex:0,data:trackPoints,symbolSize:5,itemStyle:{color:'#c0392b',opacity:1},z:3,clip:true},
  {name:'Launch',type:'scatter',xAxisIndex:0,yAxisIndex:0,data:launchPoint,symbolSize:17,itemStyle:{color:'#27ae60',borderColor:'#000',borderWidth:1.5,opacity:1},z:5},
  {name:'Last fix',type:'scatter',xAxisIndex:0,yAxisIndex:0,data:lastFixPoint,symbol:STAR,symbolSize:20,itemStyle:{color:'#1f77b4',borderColor:'#000',borderWidth:1.3,opacity:1},z:5},
  {name:'±1σ propagated error',type:'custom',coordinateSystem:'cartesian2d',xAxisIndex:1,yAxisIndex:1,z:1,clip:true,data:[0],itemStyle:{color:'#cdd3d4'},
   renderItem:(p,api)=>poly(api,pair(bandDays,bandHigh).concat(pair(bandDays,bandLow).reverse()),{fill:'rgba(127,140,141,0.38)'})},
  {name:'Wind speed',type:'scatter',xAxisIndex:1,yAxisIndex:1,data:windPoints,symbolSize:4.2,itemStyle:{color:'#2c3e50',opacity:1},z:3},
  {name:'Daily mean',type:'line',xAxisIndex:1,yAxisIndex:1,data:pair(meanDays,windMean),symbol:'none',lineStyle:{color:'#c0392b',width:1.5},itemStyle:{color:'#c0392b'},z:4},
  {name:'Latitude',type:'scatter',xAxisIndex:2,yAxisIndex:2,data:latPoints,symbolSize:5.2,itemStyle:{color:'#000',opacity:1},z:3},
  {name:'Altitude',type:'scatter',xAxisIndex:3,yAxisIndex:3,data:altPoints,symbolSize:4.2,itemStyle:{color:'#7f8c8d',opacity:1},z:3},
  {name:'Altitude daily mean',type:'line',xAxisIndex:3,yAxisIndex:3,data:pair(meanDays,altMean),symbol:'none',lineStyle:{color:'#c0392b',width:1.8},itemStyle:{color:'#c0392b'},z:4},
  {name:'U (zonal)',type:'bar',xAxisIndex:4,yAxisIndex:4,data:pair(uBins,uCounts),barWidth:17.5,barGap:'-100%',itemStyle:{color:'rgba(31,119,180,0.65)',borderColor:'rgba(0,0,0,0.7)',borderWidth:1},z:2},
  {name:'V (meridional)',type:'bar',xAxisIndex:4,yAxisIndex:4,data:pair(vBins,vCounts),barWidth:17.5,barGap:'-100%',itemStyle:{color:'rgba(255,127,14,0.65)',borderColor:'rgba(0,0,0,0.7)',borderWidth:1},z:3}
];

const legendItem = (name,left,top,icon,w,h,itemStyle,pad)=>({show:true,data:[{name,icon,itemStyle}],left,top,orient:'vertical',padding:0,itemWidth:w,itemHeight:h,selectedMode:false,
  textStyle:{fontFamily:FONT,fontSize:11.1,color:'#000',padding:[0,0,0,pad]},z:20});
const legend = [
  legendItem('Track',104,288,'circle',4,4,{color:'#c0392b',opacity:1},11),
  legendItem('Launch',95,299,'circle',17,17,{color:'#27ae60',borderColor:'#000',borderWidth:1.5,opacity:1},7),
  legendItem('Last fix',94,313,STAR,20,20,{color:'#1f77b4',borderColor:'#000',borderWidth:1.3,opacity:1},4),
  legendItem('±1σ propagated error',621,677,'rect',23,9,{color:'#cdd3d4',opacity:1},3),
  legendItem('Wind speed',630,692,'circle',4,4,{color:'#2c3e50',opacity:1},13),
  legendItem('Daily mean',621,707,'rect',23,1.6,{color:'#c0392b',opacity:1},3),
  legendItem('U (zonal)',1447,818.5,'rect',23,8,{color:'rgba(31,119,180,0.65)',borderColor:'#222',borderWidth:1},2),
  legendItem('V (meridional)',1447,833.5,'rect',23,8,{color:'rgba(255,127,14,0.65)',borderColor:'#222',borderWidth:1},2)
];
const legendBox = (l,t,w,h)=>({type:'rect',left:l,top:t,z:10,shape:{width:w,height:h,r:3},style:{fill:'rgba(255,255,255,0.8)',stroke:'#ccc',lineWidth:1},silent:true});
const frame = g=>({type:'rect',z:9,silent:true,shape:{x:g.left,y:g.top,width:g.width,height:g.height},style:{fill:null,stroke:'#000',lineWidth:1}});

const centre = (text,cx,top,size,color)=>({text,left:cx,top,textAlign:'center',padding:0,textStyle:{fontFamily:FONT,fontSize:size,fontWeight:'normal',color}});
const RC = RX+RW/2, LC = LX+LW/2;
const title = [
  centre(titles[0],LC,10,16.7,'#000'),
  centre(titles[1],LC,398,16.7,'#000'),
  centre(titles[2],RC,398,16.7,'#000'),
  centre(titles[3],LC,787,16.7,'#000'),
  centre(titles[4],RC,787,16.7,'#000'),
  centre('Pico Balloon Archive',RC,41,22.2,'#1a5276'),
  centre('Callsign: ZR6TG-3   (WSPR)',RC,65,19.4,'#000')
];
infoLines.forEach((t,i)=>title.push(centre(t,RC,89+i*23,15.28,'#000')));
title.push(centre('Data quality score: 0.952',RC,250,18,'#1a5276'));
title.push(centre('precision=0.95   cadence=1.00   agreement=1.00   stability=0.99   coverage=0.84',RC+3,272,12.5,'#555'));

const chart = echarts.init(document.getElementById('c'),null,{renderer:'canvas',width:1589,height:1189});
chart.setOption({animation:false,backgroundColor:'#fff',textStyle:{fontFamily:FONT},title,grid,xAxis,yAxis,series,legend,
  graphic:grid.map(frame).concat([legendBox(90,283,79,50),legendBox(617.5,672,161.5,51),legendBox(1445,815,117,34)])});
</script></body></html>
